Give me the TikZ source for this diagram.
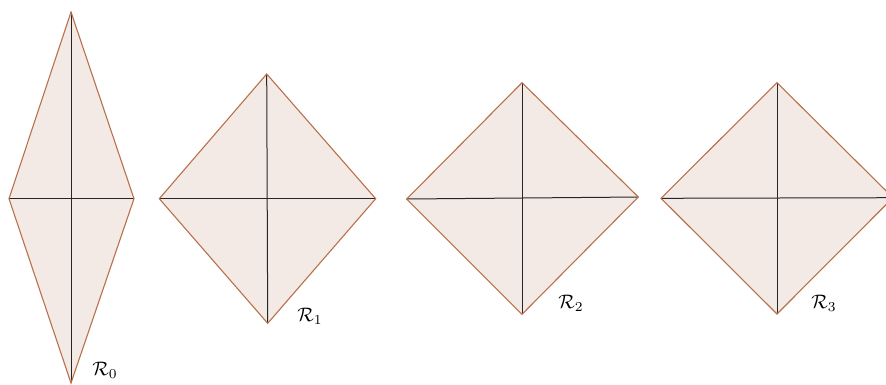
\documentclass[tikz,border=0pt]{standalone}
\usepackage{amssymb}
\definecolor{edgec}{HTML}{B8714C}
\definecolor{fillc}{HTML}{F3EAE6}
\tikzset{
  rhomb/.style={fill=fillc, draw=edgec, line width=1.1pt, line join=miter},
  axis/.style={draw=black!85, line width=1pt},
  lab/.style={inner sep=0pt, scale=1.95}
}
\begin{document}
\begin{tikzpicture}[x=1pt,y=-1pt]
\useasboundingbox (0,0) rectangle (886,384);
% R0
\coordinate (t0) at (71,12);
\coordinate (b0) at (71,383);
\coordinate (l0) at (9,198.7);
\coordinate (r0) at (134,198.7);
% R1
\coordinate (t1) at (266.7,74);
\coordinate (b1) at (267.7,323.3);
\coordinate (l1) at (159.3,198.7);
\coordinate (r1) at (375.7,198.7);
% R2
\coordinate (t2) at (522,82.7);
\coordinate (b2) at (522,314.3);
\coordinate (l2) at (406.7,199);
\coordinate (r2) at (638.3,197);
% R3
\coordinate (t3) at (777,82.7);
\coordinate (b3) at (777,314);
\coordinate (l3) at (661,198.3);
\coordinate (r3) at (893,197.7);

\foreach \i in {0,1,2,3}{
  \fill[fillc] (t\i) -- (r\i) -- (b\i) -- (l\i) -- cycle;
  \draw[axis] (t\i) -- (b\i);
  \draw[axis] (l\i) -- (r\i);
  \draw[rhomb, fill=none] (t\i) -- (r\i) -- (b\i) -- (l\i) -- cycle;
}

\node[lab] (n0) at (105,370) {$\mathcal{R}_0$};
\node[lab] (n1) at (310,316) {$\mathcal{R}_1$};
\node[lab] (n2) at (571,303) {$\mathcal{R}_2$};
\node[lab] (n3) at (824,303) {$\mathcal{R}_3$};
\end{tikzpicture}
\end{document}
